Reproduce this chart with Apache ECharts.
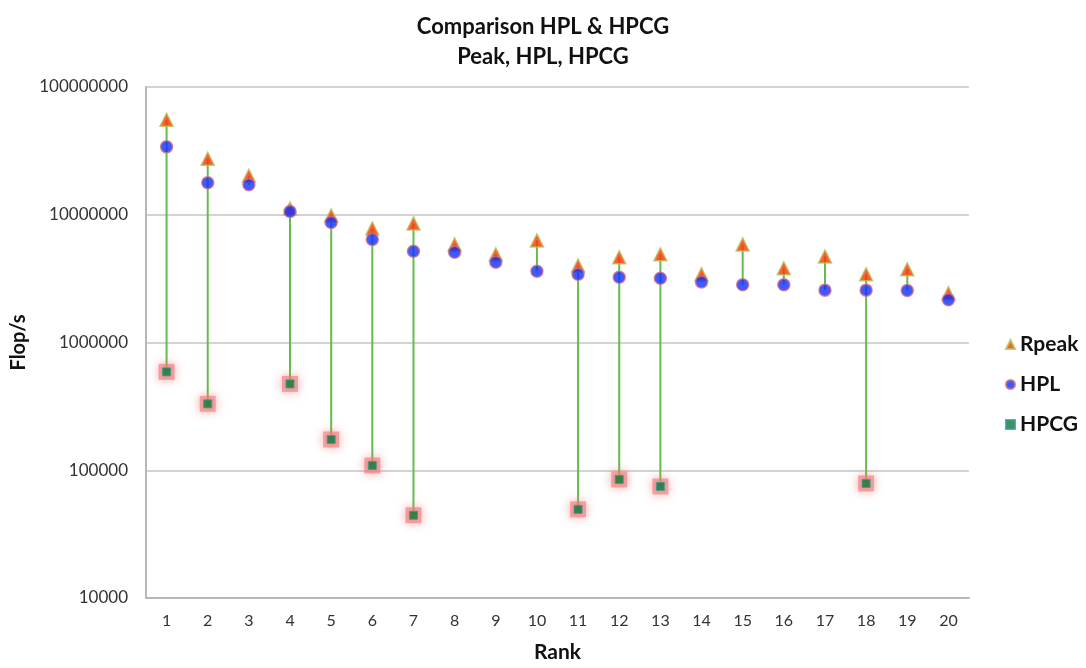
<html lang="en">
<head>
    <meta charset="UTF-8">
    <title>Comparison HPL & HPCG</title>
    <script src="https://cdn.jsdelivr.net/npm/echarts@6/dist/echarts.min.js"></script>
</head>
<style>
    html, body { margin: 0; padding: 0; background: #fff; }
    #container { width: 1086px; height: 668px; }
</style>
<body>
<div id="container"></div>
<script>
    // ranks on the x axis
    var ranks = ['1', '2', '3', '4', '5', '6', '7', '8', '9', '10',
        '11', '12', '13', '14', '15', '16', '17', '18', '19', '20'];

    // Flop/s values
    var rpeak = [5.53e7, 2.75e7, 2.02e7, 1.12e7, 9.86e6, 7.8e6, 8.55e6, 5.86e6, 4.9e6, 6.3e6,
        4.0e6, 4.65e6, 4.9e6, 3.42e6, 5.86e6, 3.81e6, 4.72e6, 3.42e6, 3.74e6, 2.43e6];
    var hpl = [3.40e7, 1.78e7, 1.72e7, 1.06e7, 8.7e6, 6.4e6, 5.17e6, 5.08e6, 4.25e6, 3.61e6,
        3.42e6, 3.24e6, 3.18e6, 2.98e6, 2.83e6, 2.83e6, 2.57e6, 2.57e6, 2.55e6, 2.16e6];
    // null where no HPCG result
    var hpcg = [5.89e5, 3.31e5, null, 4.74e5, 1.74e5, 1.09e5, 4.44e4, null, null, null,
        4.94e4, 8.47e4, 7.47e4, null, null, null, null, 7.88e4, null, null];

    var font = 'Lato, "Open Sans", sans-serif';

    // vertical range line: from Rpeak down to the lowest result
    var rangeData = [];
    for (var i = 0; i < ranks.length; i++)
    {
        var low = hpcg[i] != null ? hpcg[i] : hpl[i];
        rangeData.push([i, low, rpeak[i]]);
    }

    var chart = echarts.init(document.getElementById('container'));

    var option = {
        animation: false,
        title: {
            text: 'Comparison HPL & HPCG\nPeak, HPL, HPCG',
            left: 'center',
            top: 7,
            textStyle: {
                fontFamily: font,
                fontSize: 22,
                fontWeight: 'bold',
                color: '#111',
                lineHeight: 30
            }
        },
        legend: {
            orient: 'vertical',
            left: 1000,
            top: 329,
            itemGap: 19,
            itemWidth: 9,
            itemHeight: 9,
            textStyle: {
                fontFamily: font,
                fontSize: 21,
                fontWeight: 'bold',
                color: '#111'
            },
            data: [
                { name: 'Rpeak', icon: 'triangle' },
                { name: 'HPL', icon: 'circle' },
                { name: 'HPCG', icon: 'rect' }
            ]
        },
        grid: {
            left: 146,
            right: 117,
            top: 87,
            bottom: 68
        },
        xAxis: {
            type: 'category',
            data: ranks,
            name: 'Rank',
            nameLocation: 'middle',
            nameGap: 44,
            nameTextStyle: {
                fontFamily: font,
                fontSize: 21,
                fontWeight: 'bold',
                color: '#111'
            },
            axisTick: { show: false },
            axisLine: { lineStyle: { color: '#b8b8b8', width: 2 } },
            axisLabel: {
                margin: 15,
                fontFamily: font,
                fontSize: 16,
                color: '#333'
            }
        },
        yAxis: {
            type: 'log',
            logBase: 10,
            min: 10000,
            max: 100000000,
            name: 'Flop/s',
            nameLocation: 'middle',
            nameGap: 114,
            nameTextStyle: {
                fontFamily: font,
                fontSize: 20,
                fontWeight: 'bold',
                color: '#111'
            },
            axisTick: { show: false },
            axisLine: { show: true, lineStyle: { color: '#b8b8b8', width: 2 } },
            splitLine: { lineStyle: { color: '#c4c4c4', width: 1.5 } },
            axisLabel: {
                margin: 18,
                fontFamily: font,
                fontSize: 17,
                color: '#333',
                formatter: function (v)
                {
                    return String(Math.round(v));
                }
            }
        },
        series: [
            {
                name: 'range',
                type: 'custom',
                silent: true,
                z: 1,
                encode: { x: 0, y: [1, 2] },
                renderItem: function (params, api)
                {
                    var p1 = api.coord([api.value(0), api.value(1)]);
                    var p2 = api.coord([api.value(0), api.value(2)]);
                    return {
                        type: 'line',
                        shape: { x1: p1[0], y1: p1[1], x2: p2[0], y2: p2[1] },
                        style: { stroke: '#66bb4f', lineWidth: 2 }
                    };
                },
                data: rangeData
            },
            {
                // pink halo behind the HPCG squares
                name: 'HPCG halo',
                type: 'scatter',
                symbol: 'rect',
                symbolSize: 16,
                silent: true,
                z: 2,
                itemStyle: {
                    color: 'rgba(240, 125, 125, 0.8)',
                    shadowBlur: 10,
                    shadowColor: 'rgba(240, 110, 110, 0.95)'
                },
                data: hpcg
            },
            {
                name: 'HPCG',
                type: 'scatter',
                symbol: 'rect',
                symbolSize: 8,
                z: 3,
                itemStyle: {
                    color: '#0a7a3a',
                    borderColor: '#3c9a98',
                    borderWidth: 1
                },
                data: hpcg
            },
            {
                name: 'Rpeak',
                type: 'scatter',
                symbol: 'triangle',
                symbolSize: 13,
                z: 4,
                itemStyle: {
                    color: '#ff3300',
                    borderColor: '#b5c25a',
                    borderWidth: 1.5
                },
                data: rpeak
            },
            {
                name: 'HPL',
                type: 'scatter',
                symbol: 'circle',
                symbolSize: 12,
                z: 5,
                itemStyle: {
                    color: '#1030ff',
                    borderColor: '#d06a8a',
                    borderWidth: 1.5
                },
                data: hpl
            }
        ]
    };

    chart.setOption(option);
</script>
</body>
</html>
